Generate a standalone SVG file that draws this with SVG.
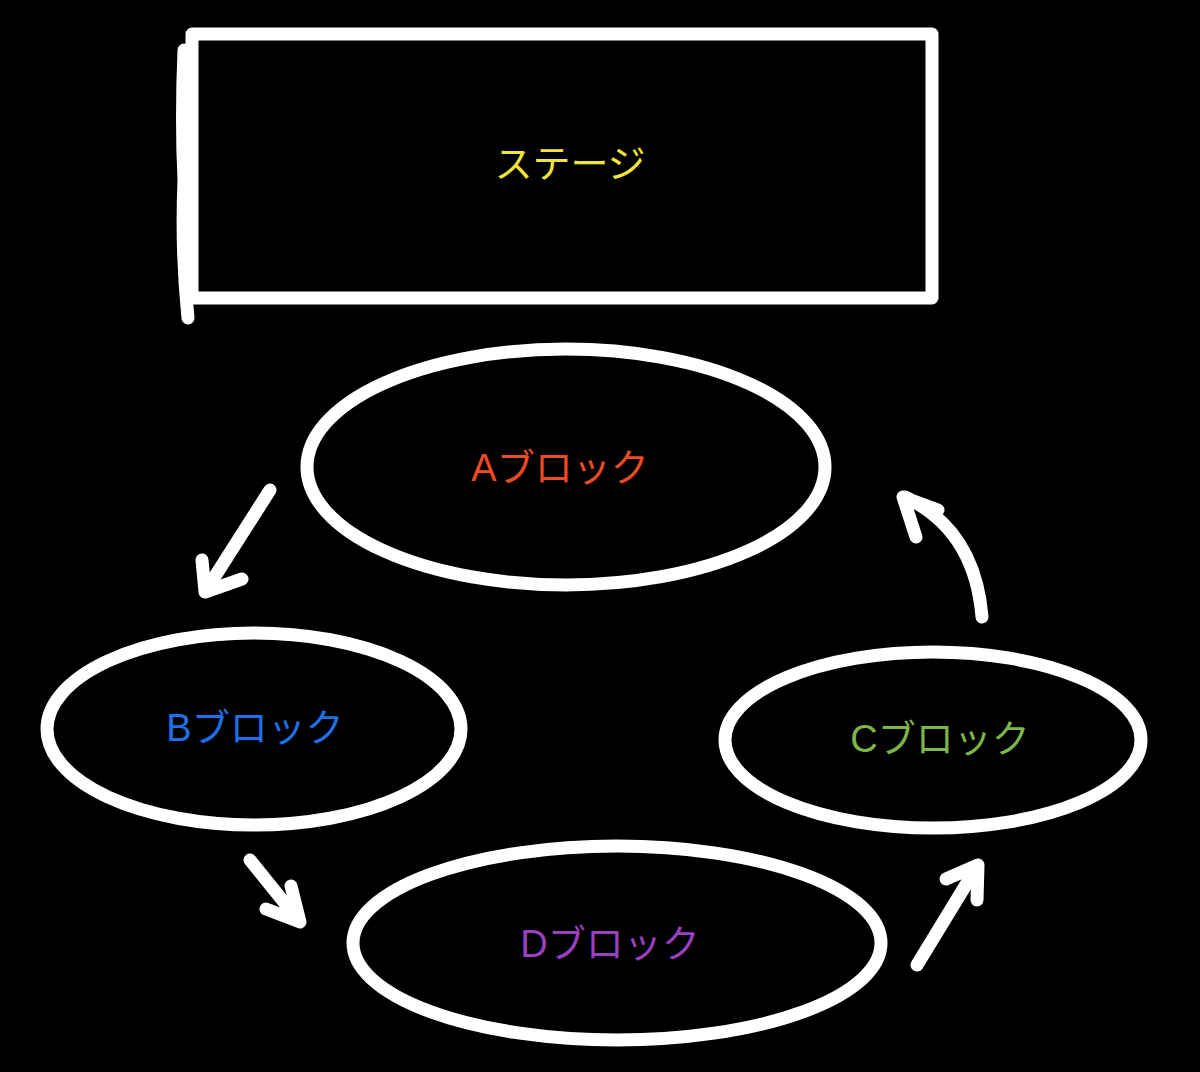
<svg xmlns="http://www.w3.org/2000/svg" width="1200" height="1072" viewBox="0 0 1200 1072">
<style>
.s{fill:none;stroke:#fff;stroke-width:13;stroke-linecap:round;stroke-linejoin:round}
.t{font-family:"Liberation Sans","Noto Sans CJK JP",sans-serif;font-size:38px;text-anchor:middle;dominant-baseline:middle}
</style>
<rect width="1200" height="1072" fill="#000"/>
<g id="stage"><rect class="s" x="192" y="34" width="740" height="264"/><path class="s" d="M184 50 Q181 120 184 180 Q181 250 188 318"/><text class="t" x="570" y="167" fill="#f0e63a">ステージ</text></g>
<g id="A"><ellipse class="s" cx="566" cy="467" rx="259" ry="118"/><text class="t" x="560" y="471" fill="#ee4a25">Aブロック</text></g>
<g id="B"><ellipse class="s" cx="254" cy="729" rx="207" ry="96"/><text class="t" x="255" y="731" fill="#1f6fe8">Bブロック</text></g>
<g id="C"><ellipse class="s" cx="933" cy="740" rx="208" ry="88"/><text class="t" x="940" y="742" fill="#7ab648">Cブロック</text></g>
<g id="D"><ellipse class="s" cx="617" cy="943" rx="264" ry="97"/><text class="t" x="610" y="947" fill="#9b3fc1">Dブロック</text></g>
<g id="connectors">
<path class="s" d="M270 490 L205 592 M202 560 L205 592 L242 579"/>
<path class="s" d="M250 860 L300 922 M266 909 L300 922 L291 886"/>
<path class="s" d="M917 965 L978 865 M946 879 L978 865 L977 900"/>
<path class="s" d="M982 617 Q975 530 905 497 M916 537 L903 497 L938 510"/>
</g>
</svg>
